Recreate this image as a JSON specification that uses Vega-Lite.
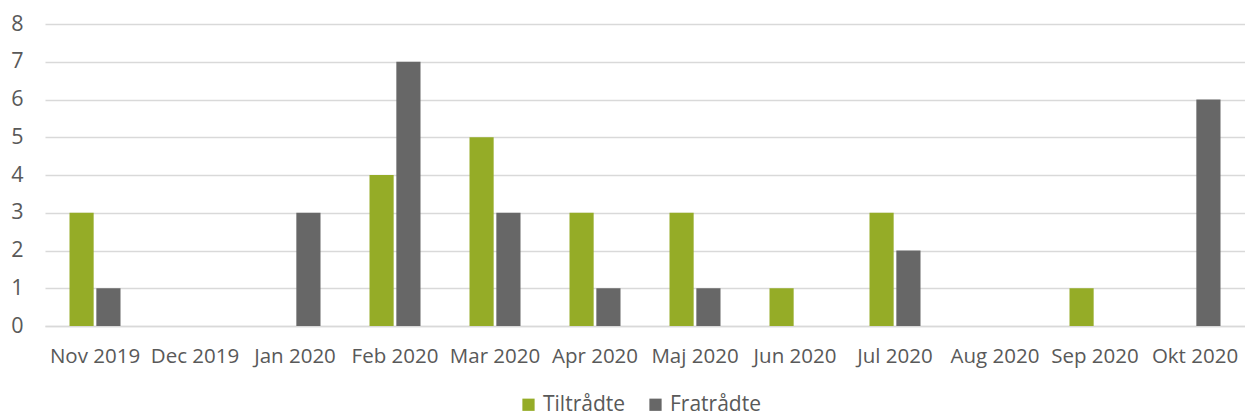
{
  "$schema": "https://vega.github.io/schema/vega-lite/v6.json",
  "autosize": "none",
  "width": 1200,
  "height": 302,
  "padding": {"left": 45, "top": 24, "right": 0, "bottom": 92},
  "background": "white",
  "config": {
    "view": {"stroke": null},
    "font": "Open Sans",
    "axis": {"labelFont": "Open Sans", "labelColor": "#595959", "labelFontSize": 20.5}
  },
  "data": {
    "values": [
      {"month": "Nov 2019", "type": "Tiltrådte", "value": 3},
      {"month": "Nov 2019", "type": "Fratrådte", "value": 1},
      {"month": "Dec 2019", "type": "Tiltrådte", "value": 0},
      {"month": "Dec 2019", "type": "Fratrådte", "value": 0},
      {"month": "Jan 2020", "type": "Tiltrådte", "value": 0},
      {"month": "Jan 2020", "type": "Fratrådte", "value": 3},
      {"month": "Feb 2020", "type": "Tiltrådte", "value": 4},
      {"month": "Feb 2020", "type": "Fratrådte", "value": 7},
      {"month": "Mar 2020", "type": "Tiltrådte", "value": 5},
      {"month": "Mar 2020", "type": "Fratrådte", "value": 3},
      {"month": "Apr 2020", "type": "Tiltrådte", "value": 3},
      {"month": "Apr 2020", "type": "Fratrådte", "value": 1},
      {"month": "Maj 2020", "type": "Tiltrådte", "value": 3},
      {"month": "Maj 2020", "type": "Fratrådte", "value": 1},
      {"month": "Jun 2020", "type": "Tiltrådte", "value": 1},
      {"month": "Jun 2020", "type": "Fratrådte", "value": 0},
      {"month": "Jul 2020", "type": "Tiltrådte", "value": 3},
      {"month": "Jul 2020", "type": "Fratrådte", "value": 2},
      {"month": "Aug 2020", "type": "Tiltrådte", "value": 0},
      {"month": "Aug 2020", "type": "Fratrådte", "value": 0},
      {"month": "Sep 2020", "type": "Tiltrådte", "value": 1},
      {"month": "Sep 2020", "type": "Fratrådte", "value": 0},
      {"month": "Okt 2020", "type": "Tiltrådte", "value": 0},
      {"month": "Okt 2020", "type": "Fratrådte", "value": 6}
    ]
  },
  "mark": {"type": "bar"},
  "encoding": {
    "x": {
      "field": "month",
      "type": "nominal",
      "sort": ["Nov 2019", "Dec 2019", "Jan 2020", "Feb 2020", "Mar 2020", "Apr 2020", "Maj 2020", "Jun 2020", "Jul 2020", "Aug 2020", "Sep 2020", "Okt 2020"],
      "scale": {"paddingInner": 0.49, "paddingOuter": 0.245},
      "axis": {
        "title": null,
        "labelAngle": 0,
        "ticks": false,
        "domain": true,
        "domainColor": "#d9d9d9",
        "domainWidth": 1.5,
        "labelPadding": 20,
        "labelBaseline": "top"
      }
    },
    "xOffset": {
      "field": "type",
      "type": "nominal",
      "sort": ["Tiltrådte", "Fratrådte"],
      "scale": {"paddingInner": 0.1}
    },
    "y": {
      "field": "value",
      "type": "quantitative",
      "scale": {"domain": [0, 8], "nice": false},
      "axis": {
        "title": null,
        "values": [0, 1, 2, 3, 4, 5, 6, 7, 8],
        "ticks": false,
        "domain": false,
        "grid": true,
        "gridColor": "#d9d9d9",
        "gridWidth": 1.5,
        "labelFontSize": 21.5,
        "labelPadding": 22
      }
    },
    "color": {
      "field": "type",
      "type": "nominal",
      "scale": {"domain": ["Tiltrådte", "Fratrådte"], "range": ["#95ac27", "#676767"]},
      "legend": {
        "title": null,
        "orient": "none",
        "direction": "horizontal",
        "legendX": 473,
        "legendY": 370,
        "symbolType": "square",
        "symbolSize": 150,
        "symbolStrokeWidth": 0,
        "labelFontSize": 21,
        "labelColor": "#595959",
        "labelFont": "Open Sans",
        "labelOffset": 4,
        "columnPadding": 19
      }
    }
  }
}
